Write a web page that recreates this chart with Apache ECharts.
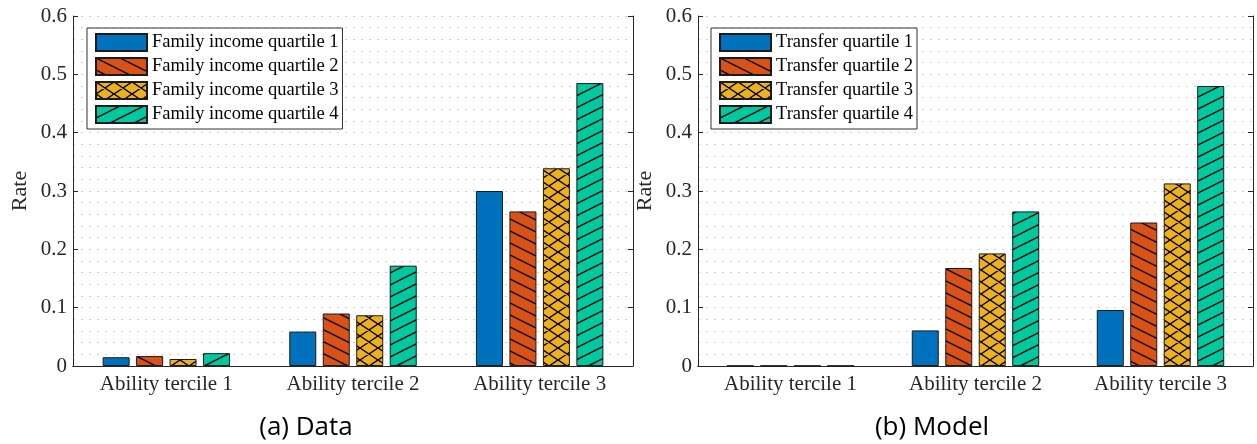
<!DOCTYPE html>
<html>
<head>
<meta charset="utf-8">
<script src="https://cdn.jsdelivr.net/npm/echarts@6/dist/echarts.min.js"></script>
<style>
  html, body { margin: 0; padding: 0; background: #fff; }
  #chart { width: 1257px; height: 444px; }
</style>
</head>
<body>
<div id="chart"></div>
<script>
// categories and values
const categories = ["Ability tercile 1", "Ability tercile 2", "Ability tercile 3"];
const yTicks = [0, 0.1, 0.2, 0.3, 0.4, 0.5, 0.6];

const dataNames = ["Family income quartile 1", "Family income quartile 2", "Family income quartile 3", "Family income quartile 4"];
const dataQ1 = [0.015, 0.059, 0.300];
const dataQ2 = [0.017, 0.090, 0.265];
const dataQ3 = [0.012, 0.087, 0.339];
const dataQ4 = [0.022, 0.172, 0.485];

const modelNames = ["Transfer quartile 1", "Transfer quartile 2", "Transfer quartile 3", "Transfer quartile 4"];
const modelQ1 = [0.0005, 0.061, 0.096];
const modelQ2 = [0.0005, 0.168, 0.246];
const modelQ3 = [0.0005, 0.193, 0.313];
const modelQ4 = [0.0005, 0.265, 0.480];

const colors = ["#0072BD", "#D95319", "#EDB120", "#00C9A0"];
const SERIF = "'Liberation Serif', 'DejaVu Serif', serif";
const AXIS = "#262626";

// hatch fills (MATLAB hatchfill look)
function hatch(fill, kind) {
  if (kind === "none") return fill;
  const c = document.createElement("canvas");
  let W = 24, H = 12;
  if (kind === "cross") { W = 18; H = 12; }
  c.width = W; c.height = H;
  const ctx = c.getContext("2d");
  ctx.fillStyle = fill;
  ctx.fillRect(0, 0, W, H);
  ctx.strokeStyle = "#000";
  ctx.lineWidth = 1.4;
  ctx.beginPath();
  for (const dy of [-H, 0, H]) {
    if (kind === "back" || kind === "cross") {
      ctx.moveTo(0, dy); ctx.lineTo(W, dy + H);
    }
    if (kind === "fwd" || kind === "cross") {
      ctx.moveTo(0, dy + H); ctx.lineTo(W, dy);
    }
  }
  ctx.stroke();
  return { image: c, repeat: "repeat" };
}
const kinds = ["none", "back", "cross", "fwd"];

function barSeries(name, values, i, axisIdx) {
  return {
    name: name,
    type: "bar",
    xAxisIndex: axisIdx,
    yAxisIndex: axisIdx,
    data: values,
    barWidth: 27,
    barGap: "24%",
    itemStyle: {
      color: hatch(colors[i], kinds[i]),
      borderColor: "#1a1a1a",
      borderWidth: 1
    },
    emphasis: { disabled: true }
  };
}

const grids = [
  { left: 73, top: 16, width: 560, height: 350 },
  { left: 698, top: 16, width: 555, height: 350 }
];

function bottomAxis(g) {
  return {
    type: "category", gridIndex: g, data: categories, position: "bottom",
    axisLine: { lineStyle: { color: AXIS, width: 1 } },
    axisTick: { inside: true, alignWithLabel: true, length: 5, lineStyle: { color: AXIS } },
    axisLabel: { fontFamily: SERIF, fontSize: 21, color: AXIS, margin: 8 }
  };
}
function topAxis(g) {
  return {
    type: "category", gridIndex: g, data: categories, position: "top",
    axisLine: { lineStyle: { color: AXIS, width: 1 } },
    axisTick: { inside: true, alignWithLabel: true, length: 5, lineStyle: { color: AXIS } },
    axisLabel: { show: false }
  };
}
function leftAxis(g) {
  return {
    type: "value", gridIndex: g, position: "left",
    min: yTicks[0], max: yTicks[yTicks.length - 1], interval: 0.1,
    name: "Rate", nameLocation: "middle", nameRotate: 90, nameGap: 42,
    nameTextStyle: { fontFamily: SERIF, fontSize: 22, color: AXIS },
    axisLine: { show: true, lineStyle: { color: AXIS, width: 1 } },
    axisTick: { show: true, inside: true, length: 5, lineStyle: { color: AXIS } },
    axisLabel: { fontFamily: SERIF, fontSize: 21, color: AXIS, margin: 6 },
    splitLine: { show: true, lineStyle: { color: "#cfcfcf", type: [2, 6], width: 1 } },
    minorTick: { show: false, splitNumber: 5 },
    minorSplitLine: { show: true, lineStyle: { color: "#cfcfcf", type: [2, 6], width: 1 } }
  };
}
function rightAxis(g) {
  return {
    type: "value", gridIndex: g, position: "right",
    min: yTicks[0], max: yTicks[yTicks.length - 1], interval: 0.1,
    axisLine: { show: true, lineStyle: { color: AXIS, width: 1 } },
    axisTick: { show: true, inside: true, length: 5, lineStyle: { color: AXIS } },
    axisLabel: { show: false },
    splitLine: { show: false }
  };
}

function legendFor(names, left) {
  return {
    data: names, orient: "vertical", left: left, top: 28,
    icon: "rect", itemWidth: 51, itemHeight: 17, itemGap: 5,
    padding: [5, 4, 5, 8],
    backgroundColor: "#fff", borderColor: "#333", borderWidth: 1, borderRadius: 0,
    textStyle: { fontFamily: SERIF, fontSize: 18.5, color: "#000" },
    selectedMode: false
  };
}

const chart = echarts.init(document.getElementById("chart"));
chart.setOption({
  animation: false,
  backgroundColor: "#fff",
  grid: grids,
  xAxis: [bottomAxis(0), topAxis(0), bottomAxis(1), topAxis(1)],
  // y axes: 0/2 left-side, 1/3 right-side box edges
  yAxis: [leftAxis(0), rightAxis(0), leftAxis(1), rightAxis(1)],
  legend: [legendFor(dataNames, 87), legendFor(modelNames, 711)],
  series: [
    barSeries(dataNames[0], dataQ1, 0, 0),
    barSeries(dataNames[1], dataQ2, 1, 0),
    barSeries(dataNames[2], dataQ3, 2, 0),
    barSeries(dataNames[3], dataQ4, 3, 0),
    barSeries(modelNames[0], modelQ1, 0, 2),
    barSeries(modelNames[1], modelQ2, 1, 2),
    barSeries(modelNames[2], modelQ3, 2, 2),
    barSeries(modelNames[3], modelQ4, 3, 2)
  ],
  graphic: [
    { type: "text", x: 306, y: 428, style: { text: "(a) Data", font: "26px 'Open Sans', 'Noto Sans', sans-serif", fill: "#000", textAlign: "center", textVerticalAlign: "middle" } },
    { type: "text", x: 932, y: 428, style: { text: "(b) Model", font: "26px 'Open Sans', 'Noto Sans', sans-serif", fill: "#000", textAlign: "center", textVerticalAlign: "middle" } }
  ]
});
</script>
</body>
</html>
